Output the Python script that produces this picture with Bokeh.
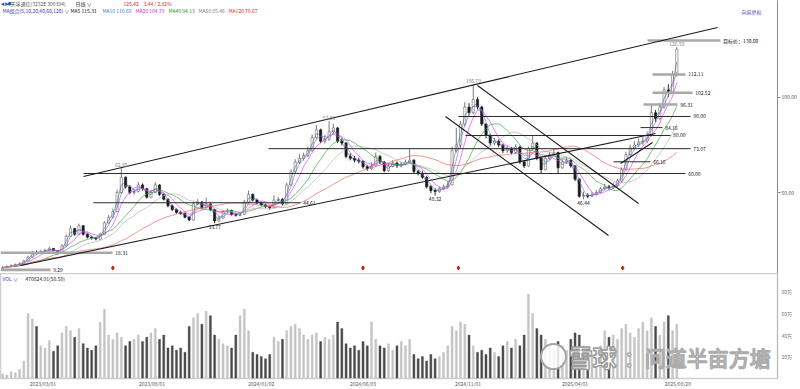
import numpy as np
import pandas as pd
from bokeh.plotting import figure
from bokeh.models import ColumnDataSource, FixedTicker, Label, Range1d
from bokeh.layouts import column
from bokeh.embed import file_html
from bokeh.resources import INLINE

FONT = "Noto Sans CJK SC"

# ---------------- data ----------------
SAMPLE_DAYS = 4          # each candle summarises 4 trading days
first_open = 10.0

close = [10.5, 11.0, 11.5, 12.0, 12.5, 14.0, 16.0, 18.5, 18.0, 19.0,
         19.5, 20.5, 19.5, 18.0, 22.0, 27.0, 31.0, 28.0, 32.5, 28.0,
         26.5, 26.0, 25.5, 28.0, 34.0, 37.0, 40.0, 50.0, 58.0, 53.0,
         50.0, 50.5, 54.0, 52.0, 47.5, 50.0, 54.0, 49.0, 46.5, 43.0,
         41.0, 39.5, 39.0, 37.0, 35.5, 44.0, 45.0, 42.0, 44.0, 41.0,
         35.0, 36.5, 40.0, 40.5, 38.5, 38.0, 38.5, 45.0, 49.0, 46.0,
         44.5, 43.5, 42.5, 42.0, 46.0, 46.5, 44.0, 54.0, 61.0, 66.0,
         68.0, 69.5, 72.0, 79.0, 83.0, 77.0, 78.0, 82.0, 84.0, 77.0,
         76.0, 69.0, 68.0, 67.0, 66.5, 63.5, 62.5, 64.0, 69.0, 66.0,
         61.5, 64.0, 65.5, 64.0, 65.0, 66.0, 67.0, 61.0, 60.0, 58.0,
         53.0, 51.0, 50.5, 52.0, 53.0, 54.0, 72.0, 75.0, 86.0, 95.0,
         92.0, 99.0, 95.0, 86.0, 80.0, 76.0, 77.0, 75.0, 72.0, 73.0,
         71.0, 74.0, 66.0, 64.0, 73.0, 76.0, 68.0, 62.0, 68.0, 70.0,
         71.0, 63.0, 66.0, 67.0, 64.0, 57.0, 48.0, 48.5, 48.0, 49.0,
         50.0, 52.0, 53.0, 52.5, 53.5, 56.0, 62.0, 70.0, 73.5, 75.0,
         76.5, 77.0, 80.0, 92.0, 89.0, 95.0, 104.0, 103.0, 112.0, 125.42]

high = [11.2, 11.6, 12.1, 12.6, 13.2, 14.6, 16.8, 19.3, 19.5, 19.8,
        20.4, 21.4, 20.8, 19.6, 22.8, 27.9, 32.6, 31.4, 33.6, 32.8,
        28.5, 27.3, 26.6, 28.9, 35.0, 38.2, 41.5, 51.6, 62.85, 58.5,
        53.8, 52.0, 55.6, 54.8, 52.3, 51.2, 55.4, 54.3, 49.6, 47.0,
        43.6, 41.6, 40.4, 39.5, 37.6, 45.2, 46.5, 45.6, 47.3, 44.5,
        41.4, 37.8, 40.8, 41.6, 41.0, 39.4, 39.6, 46.1, 51.0, 49.5,
        46.8, 45.2, 44.1, 43.2, 48.5, 47.6, 47.0, 55.0, 62.2, 67.5,
        70.2, 71.0, 74.0, 80.5, 85.5, 83.6, 80.4, 87.61, 86.2, 84.5,
        78.6, 76.4, 70.6, 69.2, 68.4, 67.0, 64.4, 65.8, 71.0, 69.8,
        66.6, 65.2, 67.0, 66.3, 66.2, 67.4, 73.0, 67.5, 62.0, 61.4,
        58.6, 53.8, 52.2, 53.0, 54.2, 56.0, 74.0, 84.0, 87.6, 97.5,
        97.0, 106.79, 100.2, 95.6, 86.4, 80.8, 78.8, 78.0, 75.6, 74.6,
        74.0, 75.4, 74.6, 67.0, 74.2, 80.0, 76.5, 68.6, 69.2, 71.4,
        72.8, 71.5, 67.4, 68.2, 67.6, 64.4, 57.5, 50.4, 49.6, 50.2,
        51.4, 53.0, 54.6, 54.0, 55.0, 57.2, 63.2, 71.5, 75.2, 77.0,
        78.4, 79.2, 82.0, 96.31, 93.5, 97.2, 105.5, 107.0, 114.0, 126.50]

low = [9.29, 10.2, 10.8, 11.2, 11.8, 12.3, 13.8, 15.8, 17.2, 17.6,
       18.5, 19.2, 18.9, 17.4, 17.8, 21.6, 26.5, 27.2, 27.6, 27.3,
       25.8, 25.2, 24.8, 25.1, 27.7, 33.5, 36.3, 39.5, 49.2, 52.0,
       49.0, 48.8, 50.0, 51.0, 46.8, 47.0, 49.5, 48.2, 45.8, 42.2,
       40.3, 38.8, 38.2, 36.4, 34.9, 35.2, 43.2, 41.3, 41.5, 40.2,
       33.77, 34.5, 36.0, 39.2, 37.9, 37.3, 37.5, 38.2, 44.3, 45.2,
       43.8, 42.7, 41.8, 41.0, 41.7, 45.3, 43.2, 43.8, 53.4, 60.2,
       65.0, 66.8, 68.6, 71.4, 78.2, 76.0, 75.8, 77.2, 80.6, 76.0,
       74.8, 68.0, 66.9, 65.8, 65.2, 62.6, 61.4, 61.8, 63.4, 65.0,
       60.6, 60.8, 63.2, 63.0, 63.2, 64.2, 65.3, 60.2, 59.0, 57.2,
       52.1, 49.6, 48.32, 49.8, 51.2, 52.3, 53.6, 71.0, 73.2, 84.8,
       90.6, 91.2, 93.6, 85.0, 78.6, 74.6, 74.8, 73.8, 70.8, 70.9,
       70.0, 70.5, 65.0, 62.8, 63.5, 72.4, 67.0, 60.0, 61.6, 67.2,
       69.3, 60.0, 62.4, 65.1, 63.0, 56.0, 47.2, 46.44, 47.0, 47.6,
       48.5, 49.6, 51.2, 51.4, 51.8, 53.0, 55.6, 61.5, 69.2, 72.6,
       74.0, 75.0, 76.2, 79.5, 87.0, 88.0, 94.2, 100.2, 102.0, 111.0]

# average daily volume of each 4-day block, in 万 shares
volume = [4, 3, 6, 5, 8, 16, 60, 55, 48, 30,
          28, 35, 25, 30, 42, 48, 44, 38, 46, 32,
          28, 26, 30, 52, 64, 40, 36, 42, 38, 30,
          34, 36, 40, 34, 38, 42, 46, 36, 40, 28,
          30, 26, 28, 24, 48, 56, 60, 50, 62, 58,
          40, 36, 32, 30, 28, 40, 58, 64, 44, 24,
          22, 20, 18, 22, 38, 34, 36, 44, 48, 50,
          46, 40, 36, 40, 42, 34, 38, 36, 40, 52,
          46, 32, 28, 30, 26, 34, 30, 52, 36, 30,
          28, 32, 26, 30, 34, 30, 36, 22, 18, 20,
          16, 22, 18, 20, 24, 30, 48, 44, 52, 50,
          40, 30, 24, 26, 22, 28, 24, 20, 30, 34,
          28, 36, 30, 40, 78, 60, 46, 40, 36, 30,
          28, 34, 30, 26, 36, 42, 40, 30, 24, 22,
          26, 30, 44, 38, 40, 36, 46, 50, 42, 38,
          46, 52, 44, 56, 48, 40, 52, 58, 44, 50]

# trading-day index of each dated tick
date_ticks = [40, 143, 246, 342, 441, 542, 639]
date_labels = ["2023/03/01", "2023/08/01", "2024/01/02", "2024/06/03",
               "2024/11/01", "2025/04/01", "2025/08/20"]
price_ticks = [50, 100]
price_tick_labels = ["50.00", "100.00"]
vol_ticks = [20, 40, 60, 80]
vol_tick_labels = ["20万", "40万", "60万", "80万"]

ma_days = [5, 10, 20, 40, 60, 120]
ma_names = ["MA5", "MA10", "MA20", "MA40", "MA60", "MA120"]
ma_last = ["115.31", "110.68", "104.79", "94.13", "85.46", "70.67"]
stock_name = "天孚通信(3232E 300394)"
period_name = "日线 ∨"
last_price = "125.42"
last_change = "3.44 / 2.82%"
ma_group = "MA组合(5,10,20,40,60,120) ∨"
adjust_name = "向前复权"
vol_name = "VOL ∨"
vol_header = "470824.91(50.50)"

peak_values = [62.85, 87.61, 106.79, 126.50]
trough_values = [33.77, 48.32, 46.44]
target_price = 130.00
event_days = [106, 342, 432, 587]   # red event markers
watermark_a = "雪球"
watermark_b = "：问道半亩方塘"

# ---------------- layout / style ----------------
X_RANGE = (0, 733)
PRICE_RANGE = (7.37, 151.05)
VOL_RANGE = (-0.3, 97.1)
ma_colors = ["#222222", "#5a86e6", "#ee40ee", "#3aa53a", "#b4b4b4", "#f06060"]
ma_text_colors = ["#111111", "#3a78e0", "#e020e0", "#1a8f1a", "#808080", "#f02020"]
THICK = dict(line_color="#a9a9a9", line_width=2.6)
THIN = dict(line_color="#2a2a2a", line_width=1.0)

# horizontal levels drawn by the analyst: (value, start day, end day, style)
level_lines = [
    (9.29, 0, 47.2, THICK), (18.31, 0, 105.7, THICK),
    (44.61, 87.7, 283.0, THIN), (60.00, 78.3, 646.2, THIN),
    (73.07, 252.8, 651.0, THIN), (80.00, 438.7, 632.0, THIN),
    (84.16, 603.8, 624.5, THIN), (66.16, 578.3, 613.2, THIN),
    (90.00, 432.0, 651.0, THIN), (96.31, 606.6, 638.7, THICK),
    (102.52, 615.1, 652.8, THICK), (112.11, 615.1, 646.2, THICK),
    (target_price, 610.4, 679.2, THICK),
]
# sloped trend lines: (day0, price0, day1, price1)
trend_lines = [
    (78.3, 58.4, 676.4, 136.8),
    (18.9, 11.6, 617.9, 81.05),
    (450.0, 106.3, 601.9, 44.2),
    (419.8, 90.0, 573.6, 27.4),
    (584.9, 65.3, 615.1, 76.3),
]

n = len(close)
xs = [SAMPLE_DAYS * i + SAMPLE_DAYS / 2 for i in range(n)]
opens = [first_open] + close[:-1]
df = pd.DataFrame(dict(x=xs, open=opens, close=close, high=high, low=low, vol=volume))
up = df["close"] >= df["open"]
df["top"] = df[["open", "close"]].max(axis=1)
df["bottom"] = df[["open", "close"]].min(axis=1)
df["fill"] = np.where(up, "#ffffff", "#1a1a1a")
df["line"] = np.where(up, "#6a6a6a", "#1a1a1a")
df["vcolor"] = np.where(up, "#c4c4c4", "#4a4a4a")
for d in ma_days:
    w = int(np.ceil(d / SAMPLE_DAYS))
    df[f"ma{d}"] = df["close"].rolling(w, min_periods=1).mean()
src = ColumnDataSource(df)


def lab(fig, x, y, text, color="#111111", size="5px", align="left",
        baseline="middle", **kw):
    fig.add_layout(Label(x=x, y=y, text=text, text_color=color, text_font=FONT,
                         text_font_size=size, text_align=align,
                         text_baseline=baseline, **kw))


# ---------------- price panel ----------------
p = figure(width=800, height=273, x_range=Range1d(*X_RANGE),
           y_range=Range1d(*PRICE_RANGE), output_backend="svg",
           toolbar_location=None, x_axis_location=None, y_axis_location="right",
           min_border_left=0, min_border_right=23, min_border_top=0,
           min_border_bottom=0, background_fill_color="white")
p.outline_line_color = None
p.grid.visible = False
ax = p.yaxis[0]
ax.ticker = FixedTicker(ticks=price_ticks)
ax.major_label_overrides = {t: s for t, s in zip(price_ticks, price_tick_labels)}
ax.axis_line_color = "#8a8a8a"
ax.major_tick_line_color = "#8a8a8a"
ax.major_tick_in = 0
ax.major_tick_out = 3
ax.minor_tick_line_color = None
ax.minor_tick_out = 0
ax.major_label_text_font = FONT
ax.major_label_text_font_size = "5px"
ax.major_label_text_color = "#555555"
ax.major_label_standoff = 1

# candles
p.segment(x0="x", y0="low", x1="x", y1="high", line_color="line",
          line_width=0.9, source=src)
p.vbar(x="x", width=2.1, top="top", bottom="bottom", fill_color="fill",
       line_color="line", line_width=0.6, source=src)

# moving averages
for d, col in zip(ma_days, ma_colors):
    p.line("x", f"ma{d}", source=src, line_color=col, line_width=0.8,
           line_alpha=0.85 if d > 5 else 0.45)

# analyst lines
for v, x0, x1, st in level_lines:
    p.segment(x0=[x0], y0=[v], x1=[x1], y1=[v], **st)
    txt = f"目标价：{v:.2f}" if v == target_price else f"{v:.2f}"
    lab(p, x1 + 2.5, v, txt)
for x0, y0, x1, y1 in trend_lines:
    p.segment(x0=[x0], y0=[y0], x1=[x1], y1=[y1], line_color="#1a1a1a",
              line_width=1.1)

# peak / trough labels
for v in peak_values:
    i = high.index(v)
    lab(p, xs[i], v + 0.6, f"{v:.2f}", color="#7f7f7f", align="center",
        baseline="bottom")
for v in trough_values:
    i = low.index(v)
    lab(p, xs[i], v - 0.8, f"{v:.2f}", align="center", baseline="top")

# event markers
p.scatter(x=event_days, y=[10.3] * len(event_days), marker="diamond",
          size=4, color="#e01010")

# header
lab(p, 0.3, 149.3, "◀▶", color="#3355aa", size="4px")
lab(p, 6.6, 149.3, "●", color="#3355cc", size="4px")
lab(p, 9.4, 149.3, stock_name, color="#555555")
lab(p, 70.8, 149.3, period_name, color="#333333")
lab(p, 116.0, 149.3, last_price, color="#e02020")
lab(p, 134.9, 149.3, last_change, color="#e02020")
lab(p, 1.9, 145.6, ma_group, color="#3a3aa8")
ma_x = [66.0, 96.2, 127.4, 158.5, 186.8, 215.1]
for xx, nm, vv, col in zip(ma_x, ma_names, ma_last, ma_text_colors):
    lab(p, xx, 145.6, f"{nm} {vv}", color=col)
lab(p, 699.0, 145.3, adjust_name, color="#3a3ac0")

# ---------------- volume panel ----------------
q = figure(width=800, height=116, x_range=p.x_range,
           y_range=Range1d(*VOL_RANGE), output_backend="svg",
           toolbar_location=None, y_axis_location="right",
           min_border_left=0, min_border_right=23, min_border_top=0,
           min_border_bottom=0)
q.outline_line_color = "#cfcfcf"
q.outline_line_width = 1.5
q.grid.visible = False
q.vbar(x="x", width=1.9, top="vol", bottom=0, fill_color="vcolor",
       line_color="vcolor", line_width=0.4, source=src)
vx = q.yaxis[0]
vx.ticker = FixedTicker(ticks=vol_ticks)
vx.major_label_overrides = {t: s for t, s in zip(vol_ticks, vol_tick_labels)}
vx.axis_line_color = "#bdbdbd"
vx.major_tick_line_color = None
vx.major_tick_out = 0
vx.major_tick_in = 0
vx.minor_tick_line_color = None
vx.minor_tick_out = 0
vx.major_label_text_font = FONT
vx.major_label_text_font_size = "5px"
vx.major_label_text_color = "#777777"
vx.major_label_standoff = 4
dx = q.xaxis[0]
dx.ticker = FixedTicker(ticks=date_ticks)
dx.major_label_overrides = {t: s for t, s in zip(date_ticks, date_labels)}
dx.axis_line_color = None
dx.major_tick_line_color = None
dx.major_tick_out = 0
dx.major_tick_in = 0
dx.minor_tick_line_color = None
dx.minor_tick_out = 0
dx.minor_tick_in = 0
dx.major_label_text_font = FONT
dx.major_label_text_font_size = "5px"
dx.major_label_text_color = "#555555"
dx.major_label_standoff = 1

lab(q, 1.9, 92.6, vol_name, color="#3a3ac0")
lab(q, 23.6, 92.6, vol_header, color="#222222")

# watermark
q.scatter(x=[521.7], y=[20.0], marker="circle", size=25, fill_color="white",
          fill_alpha=0.85, line_color="#a5a5a5", line_width=2)
lab(q, 536, 20.0, watermark_a, color="#ffffff", size="24px",
    text_outline_color="#9c9c9c", text_font_style="bold")
lab(q, 588, 20.0, watermark_b, color="#ffffff", size="21px",
    text_outline_color="#acacac")

layout = column(p, q)
open("out.html", "w").write(file_html(layout, INLINE))
